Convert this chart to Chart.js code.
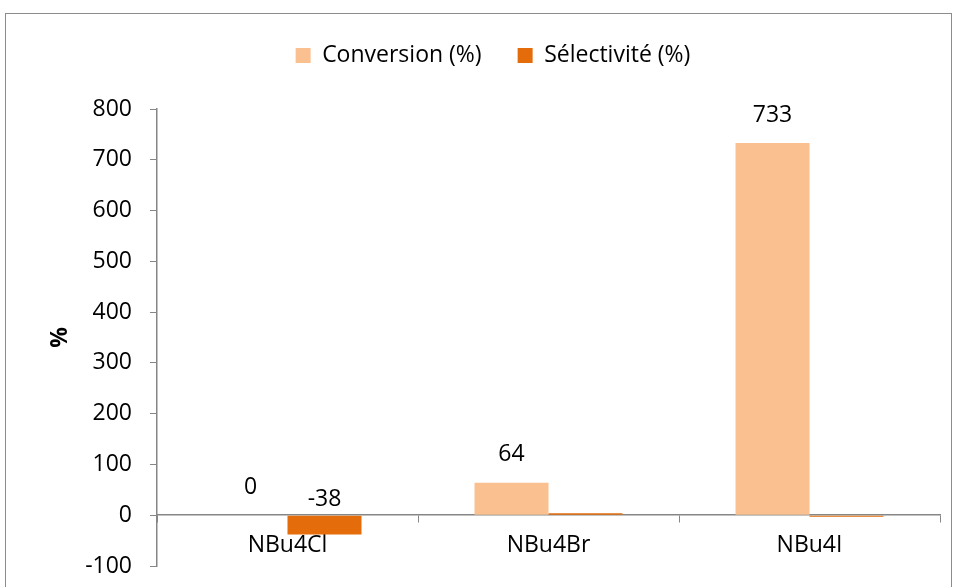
<!DOCTYPE html>
<html>
<head>
<meta charset="utf-8">
<script src="https://cdn.jsdelivr.net/npm/chart.js@4"></script>
<style>
  html, body { margin: 0; padding: 0; background: #fff; }
  #wrap { position: relative; width: 957px; height: 587px; overflow: hidden; }
  #frame { position: absolute; left: 5px; top: 13px; width: 945px; height: 600px; border: 1.5px solid #8c8c8c; }
  canvas { position: absolute; left: 0; top: 0; }
</style>
</head>
<body>
<div id="wrap">
  <div id="frame"></div>
  <canvas id="chart" width="957" height="587"></canvas>
</div>
<script>
const categories = ['NBu4Cl', 'NBu4Br', 'NBu4I'];
const conversion = [0, 64, 733];
const selectivity = [-38, 4, -3];
// which points get a value label
const showConv = [true, true, true];
const showSel = [true, false, false];

const FONT = '"Open Sans", sans-serif';
const FSIZE = 23;
const axisColor = '#868686';

// draws value labels above bars
const valueLabels = {
    id: 'valueLabels',
    afterDatasetsDraw(chart) {
        const ctx = chart.ctx;
        ctx.save();
        ctx.font = FSIZE + 'px ' + FONT;
        ctx.fillStyle = '#000';
        ctx.textAlign = 'center';
        ctx.textBaseline = 'middle';
        chart.data.datasets.forEach((ds, i) => {
            const meta = chart.getDatasetMeta(i);
            meta.data.forEach((bar, j) => {
                if (!ds.showLabel[j]) return;
                const v = ds.data[j];
                const top = Math.min(bar.y, bar.base);
                const y = v < 0 ? top - 16 : top - 28;
                ctx.fillText(String(v), bar.x, y);
            });
        });
        ctx.restore();
    }
};

// extra room under the legend, and nudge it right like the original
const legendSpace = {
    id: 'legendSpace',
    afterInit(chart) {
        const lg = chart.legend;
        const fit = lg.fit;
        lg.fit = function () {
            fit.call(lg);
            lg.height += 32;
        };
    },
    afterLayout(chart) {
        chart.legend.left += 23;
        chart.legend.right += 23;
    }
};

new Chart(document.getElementById('chart').getContext('2d'), {
    type: 'bar',
    data: {
        labels: categories,
        datasets: [{
            label: 'Conversion (%)',
            data: conversion,
            showLabel: showConv,
            backgroundColor: '#FAC090',
            categoryPercentage: 0.567,
            barPercentage: 1.0
        }, {
            label: 'Sélectivité (%)',
            data: selectivity,
            showLabel: showSel,
            backgroundColor: '#E46C0A',
            categoryPercentage: 0.567,
            barPercentage: 1.0
        }]
    },
    options: {
        responsive: false,
        animation: false,
        layout: { padding: { top: 8, right: 17, bottom: 21, left: 0 } },
        plugins: {
            legend: {
                position: 'top',
                labels: {
                    font: { size: FSIZE, family: FONT },
                    color: '#000',
                    boxWidth: 15,
                    boxHeight: 15,
                    padding: 36
                }
            },
            tooltip: { enabled: false }
        },
        scales: {
            x: {
                position: { y: 0 },
                offset: true,
                grid: {
                    offset: true,
                    drawOnChartArea: false,
                    drawTicks: true,
                    tickLength: 7,
                    color: axisColor
                },
                border: { color: axisColor, width: 1.5 },
                ticks: { font: { size: FSIZE, family: FONT }, color: '#000', padding: 9 }
            },
            y: {
                min: -100,
                max: 800,
                afterFit(scale) {
                    scale.width = 157;
                    scale.paddingTop = 0;
                    scale.paddingBottom = 0;
                },
                ticks: { stepSize: 100, font: { size: FSIZE, family: FONT }, color: '#000', padding: 18 },
                grid: {
                    drawOnChartArea: false,
                    drawTicks: true,
                    tickLength: 7,
                    color: axisColor
                },
                border: { color: axisColor, width: 1.5 },
                title: {
                    display: true,
                    text: '%',
                    font: { size: FSIZE, weight: 'bold', family: FONT },
                    color: '#000',
                    padding: { top: 47, bottom: 0 }
                }
            }
        }
    },
    plugins: [valueLabels, legendSpace]
});
</script>
</body>
</html>
